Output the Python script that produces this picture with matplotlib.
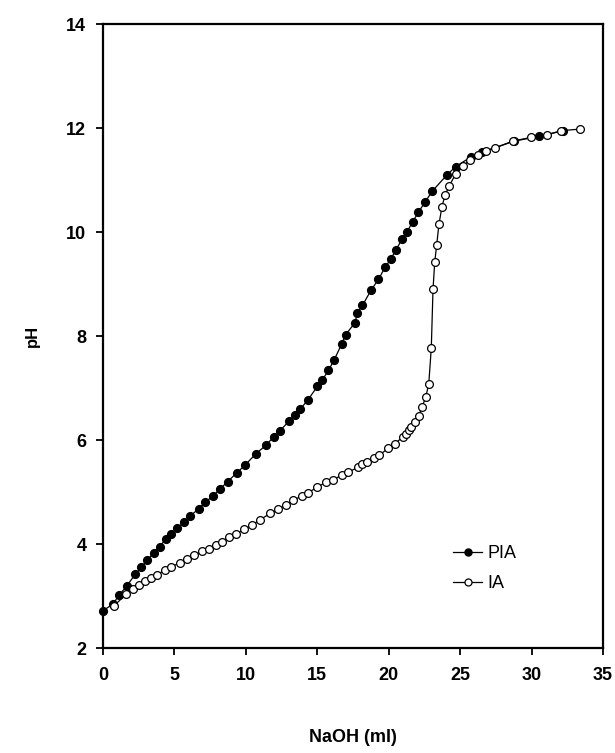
import matplotlib.pyplot as plt

plt.rcParams['font.family'] = ['Liberation Sans', 'DejaVu Sans']

# Titration of PIA with NaOH
pia_naoh = [0.0, 0.68, 1.14, 1.65, 2.26, 2.66, 3.1, 3.54, 3.96, 4.4, 4.73, 5.2,
            5.64, 6.08, 6.69, 7.16, 7.67, 8.2, 8.72, 9.37, 9.95, 10.68, 11.4,
            11.94, 12.4, 13.0, 13.43, 13.82, 14.34, 15.0, 15.34, 15.78, 16.18,
            16.71, 16.99, 17.65, 17.79, 18.16, 18.76, 19.28, 19.74, 20.14,
            20.49, 20.93, 21.3, 21.68, 22.08, 22.52, 23.06, 24.08, 24.69,
            25.73, 26.53, 28.8, 30.54, 32.2]
pia_ph = [2.72, 2.84, 3.02, 3.19, 3.42, 3.55, 3.69, 3.83, 3.95, 4.1, 4.19, 4.3,
          4.42, 4.53, 4.68, 4.8, 4.92, 5.06, 5.2, 5.37, 5.52, 5.73, 5.9, 6.06,
          6.18, 6.36, 6.48, 6.6, 6.77, 7.03, 7.15, 7.34, 7.54, 7.85, 8.03,
          8.26, 8.44, 8.59, 8.88, 9.09, 9.32, 9.48, 9.65, 9.86, 10.01, 10.2,
          10.38, 10.57, 10.79, 11.1, 11.26, 11.44, 11.54, 11.75, 11.84, 11.95]

# Titration of IA with NaOH
ia_naoh = [0.77, 1.59, 2.12, 2.54, 2.96, 3.36, 3.75, 4.31, 4.78, 5.36, 5.9,
           6.39, 6.92, 7.41, 7.93, 8.32, 8.83, 9.32, 9.84, 10.4, 10.96, 11.7,
           12.28, 12.82, 13.33, 13.92, 14.36, 14.99, 15.59, 16.08, 16.73,
           17.15, 17.88, 18.16, 18.48, 18.95, 19.35, 19.95, 20.42, 21.0,
           21.24, 21.42, 21.59, 21.82, 22.1, 22.33, 22.59, 22.8, 22.98, 23.1,
           23.22, 23.36, 23.52, 23.73, 23.94, 24.24, 24.69, 25.2, 25.69,
           26.25, 26.78, 27.46, 28.69, 29.93, 31.07, 32.08, 33.36]
ia_ph = [2.81, 3.03, 3.13, 3.21, 3.29, 3.35, 3.4, 3.5, 3.56, 3.64, 3.72, 3.78,
         3.86, 3.91, 3.99, 4.04, 4.13, 4.19, 4.28, 4.36, 4.46, 4.59, 4.67,
         4.76, 4.84, 4.93, 4.99, 5.09, 5.19, 5.23, 5.33, 5.38, 5.48, 5.53,
         5.58, 5.65, 5.71, 5.84, 5.93, 6.06, 6.12, 6.19, 6.25, 6.35, 6.47,
         6.63, 6.83, 7.07, 7.77, 8.9, 9.42, 9.76, 10.16, 10.49, 10.71, 10.89,
         11.12, 11.27, 11.39, 11.49, 11.56, 11.62, 11.75, 11.82, 11.87, 11.95,
         11.98]

x_ticks = [0, 5, 10, 15, 20, 25, 30, 35]
y_ticks = [2, 4, 6, 8, 10, 12, 14]

fig = plt.figure(figsize=(6.15, 7.53), dpi=100)
ax = fig.add_axes([0.1675, 0.1394, 0.813, 0.8286])

ax.plot(pia_naoh, pia_ph, color='black', lw=0.9, marker='o', ms=5.6,
        mfc='black', mec='black', label='PIA', clip_on=False, zorder=3)
ax.plot(ia_naoh, ia_ph, color='black', lw=0.9, marker='o', ms=5.6,
        mfc='white', mec='black', mew=0.9, label='IA', clip_on=False, zorder=4)

ax.set_xlim(0, 35)
ax.set_ylim(2, 14)
ax.set_xticks(x_ticks)
ax.set_yticks(y_ticks)
for s in ax.spines.values():
    s.set_linewidth(1.6)
ax.tick_params(direction='out', length=5, width=1.3, labelsize=13)
ax.tick_params(axis='x', pad=9)
ax.tick_params(axis='y', pad=7)
for lbl in ax.get_xticklabels() + ax.get_yticklabels():
    lbl.set_fontweight('bold')

ax.set_xlabel('NaOH (ml)', fontsize=13, fontweight='bold', labelpad=32)
ax.set_ylabel('pH', fontsize=12, fontweight='bold', labelpad=19)

ax.legend(loc='lower left', bbox_to_anchor=(0.668, 0.063), frameon=False,
          fontsize=13, handlelength=1.6, handletextpad=0.3,
          labelspacing=0.75, markerscale=0.9)

fig.savefig('out.png', dpi=100)
